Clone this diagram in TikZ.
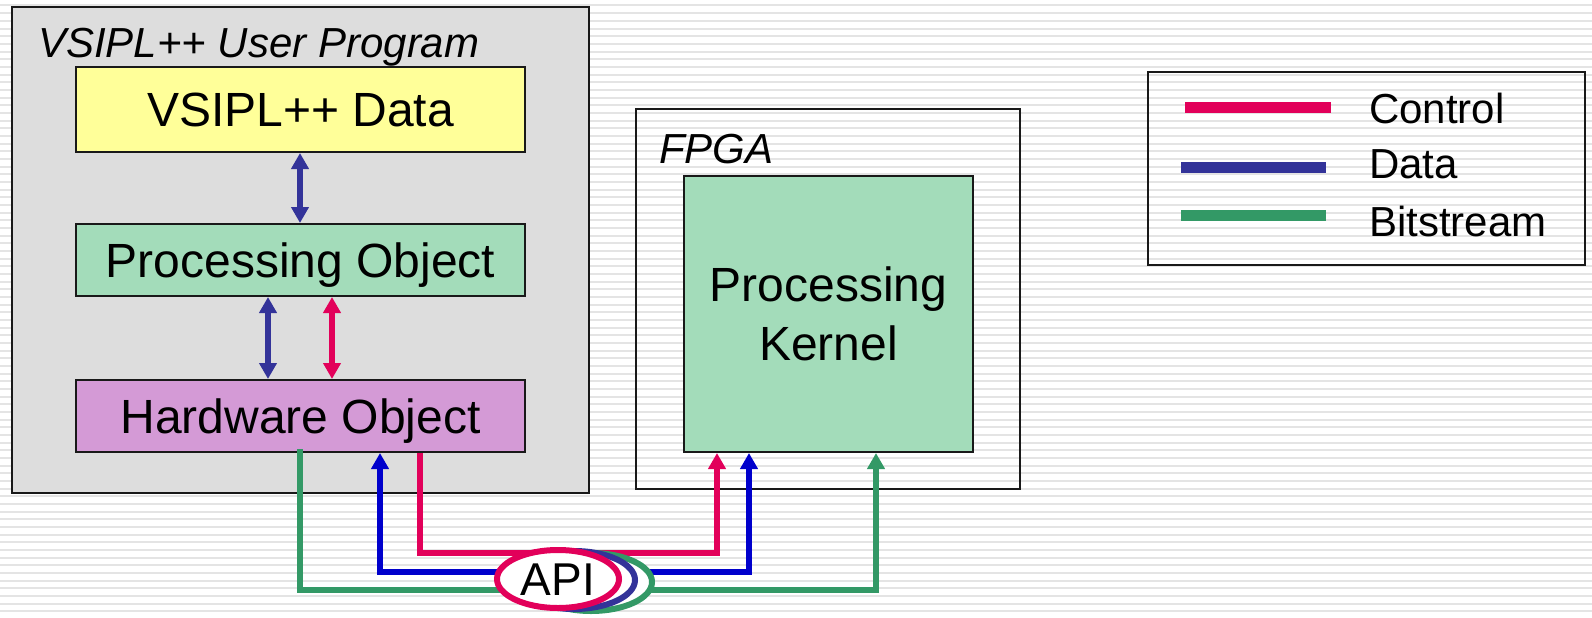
\documentclass[tikz,border=0pt]{standalone}
\usepackage{fontspec}
\setmainfont{Liberation Sans}
\usetikzlibrary{arrows.meta,shapes.geometric}

\definecolor{ctrlred}{RGB}{226,0,90}
\definecolor{datablue}{RGB}{51,51,153}
\definecolor{linkblue}{RGB}{0,0,204}
\definecolor{bitgreen}{RGB}{51,153,102}
\definecolor{datafill}{RGB}{255,255,153}
\definecolor{procfill}{RGB}{163,220,186}
\definecolor{hwfill}{RGB}{212,154,214}
\definecolor{userfill}{RGB}{221,221,221}
\definecolor{stripe}{RGB}{228,228,228}

\begin{document}
\begin{tikzpicture}[x=1pt,y=-1pt,
  >={Triangle[width=17pt,length=16pt]},
  frame/.style={draw=black!90, line width=2pt, inner sep=0pt},
  blockbox/.style={frame, minimum width=449pt, text height=34.4pt, text depth=0pt,
    font=\fontsize{48}{58}\selectfont},
  caption/.style={anchor=base west, inner sep=0pt, font=\fontsize{42}{50}\selectfont\itshape},
  legendtext/.style={anchor=base west, inner sep=0pt, font=\fontsize{42}{50}\selectfont},
  link/.style={line width=6pt},
  ring/.style={ellipse, draw, line width=6pt, fill=white, minimum width=122pt,
    minimum height=58pt, inner sep=0pt},
  key/.style={line width=11pt}]

\useasboundingbox (0,0) rectangle (1592,618);

% striped page background
\foreach \k in {0,...,80}
  \fill[stripe] (0,{4.5+7.67*\k}) rectangle (1592,{6.5+7.67*\k});

% host program side
\node[frame, fill=userfill, minimum width=577pt, minimum height=486pt] (user) at (300.5,250) {};
\node[caption] (usertitle) at (38,58) {VSIPL++ User Program};
\node[blockbox, fill=datafill, minimum height=85pt] (data) at (300.5,109.5) {VSIPL++ Data};
\node[blockbox, fill=procfill, minimum height=72pt] (proc) at (300.5,260) {Processing Object};
\node[blockbox, fill=hwfill, minimum height=72pt] (hw) at (300.5,416) {Hardware Object};

% FPGA side
\node[frame, minimum width=384pt, minimum height=380pt] (fpga) at (828,299) {};
\node[caption] (fpgatitle) at (659,163) {FPGA};
\node[frame, fill=procfill, minimum width=289pt, minimum height=276pt, align=center,
  font=\fontsize{48}{59}\selectfont] (kernel) at (828.5,314) {Processing\\Kernel};

% legend
\node[frame, minimum width=437pt, minimum height=193pt] (legend) at (1366.5,168.5) {};
\draw[key, ctrlred] (1185,107) -- (1331,107);
\draw[key, datablue] (1181,167) -- (1326,167);
\draw[key, bitgreen] (1181,215) -- (1326,215);
\node[legendtext] (lc) at (1369,123) {Control};
\node[legendtext] (ld) at (1369,178) {Data};
\node[legendtext] (lb) at (1369,236) {Bitstream};

% links inside the host program
\coordinate (x1) at (300,0);
\coordinate (x2) at (268,0);
\coordinate (x3) at (332,0);
\draw[link, datablue, <->] (data.south -| x1) -- (proc.north -| x1);
\draw[link, datablue, <->] (proc.south -| x2) -- (hw.north -| x2);
\draw[link, ctrlred, <->] (proc.south -| x3) -- (hw.north -| x3);

% links through the API
\coordinate (gl) at (300,590);
\coordinate (gr) at (876,590);
\coordinate (bl) at (380,572);
\coordinate (br) at (749,572);
\coordinate (rl) at (420,553);
\coordinate (rr) at (717,553);
\draw[link, bitgreen, ->] ([yshift=4pt]hw.south -| gl) -- (gl) -- (gr) -- (kernel.south -| gr);
\draw[link, linkblue, <->] (hw.south -| bl) -- (bl) -- (br) -- (kernel.south -| br);
\draw[link, ctrlred, ->] (hw.south -| rl) -- (rl) -- (rr) -- (kernel.south -| rr);

% API rings
\node[ring, draw=bitgreen] (apig) at (591,582) {};
\node[ring, draw=datablue] (apib) at (574,580) {};
\node[ring, draw=ctrlred, text height=33pt, text depth=0pt,
  font=\fontsize{46}{54}\selectfont] (api) at (558,579) {API};
\end{tikzpicture}
\end{document}
